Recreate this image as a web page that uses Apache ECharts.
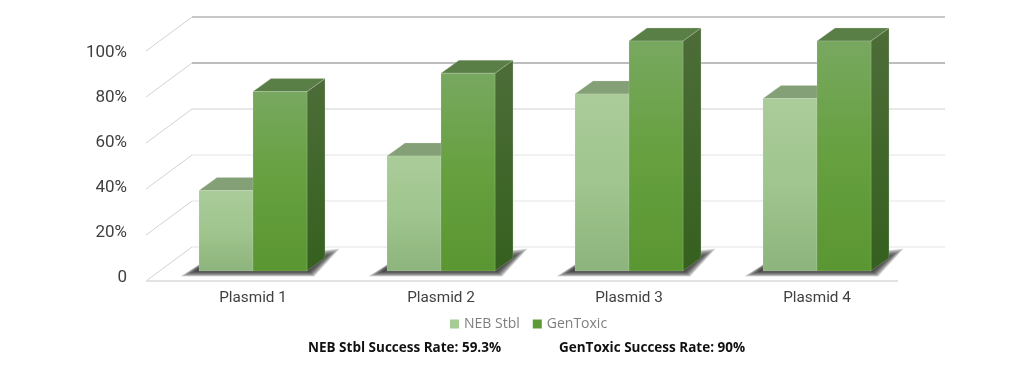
<!DOCTYPE html>
<html><head><meta charset="utf-8">
<style>html,body{margin:0;padding:0;background:#fff}#c{width:1033px;height:366px}</style>
<script src="https://cdn.jsdelivr.net/npm/echarts@6/dist/echarts.min.js"></script>
</head><body><div id="c"></div>
<script>
const categories = ['Plasmid 1','Plasmid 2','Plasmid 3','Plasmid 4'];
const nebStbl = [35, 50, 77, 75];
const genToxic = [78, 86, 100, 100];
const yTicks = [0, 20, 40, 60, 80, 100];
const notes = ['NEB Stbl Success Rate: 59.3%', 'GenToxic Success Rate: 90%'];

const wallColors = {0:'#e4e4e4',20:'#e6e6e6',40:'#e4e4e4',60:'#e0e0e0',80:'#bdbdbd',100:'#c8c8c8'};
const wallWidths = {0:1.2,20:1.2,40:1.2,60:1.5,80:2,100:2};
const WALL_DX = 46, WALL_DY = 34;     // floor depth
const BAR_DX = 13, BAR_DY = 10;       // bar front plane inside the floor
const TOP_DX = 18, TOP_DY = 13;       // bar depth
const BAR_FRAC = 54 / 188;
const SHADOW_STEPS = 16;

const vGrad = (stops) => ({type:'linear',x:0,y:0,x2:0,y2:1,colorStops:stops.map((c,i)=>({offset:i/(stops.length-1),color:c}))});

function wallItem(params, api){
  const v = api.value(0);
  const p = api.coord([0, v]);
  const band = api.size([1,0])[0];
  const l = p[0]-band/2, y = p[1];
  const kids = [{type:'line',shape:{x1:l,y1:y,x2:l+WALL_DX,y2:y-WALL_DY},style:{stroke:'#d2d2d2',lineWidth:1}},
    {type:'line',shape:{x1:l+WALL_DX,y1:y-WALL_DY,x2:l+WALL_DX+band*4+1,y2:y-WALL_DY},style:{stroke:wallColors[v],lineWidth:wallWidths[v]}}];
  if(v===0) kids.push({type:'line',shape:{x1:l,y1:y,x2:l+band*4,y2:y},style:{stroke:'#e2e2e2',lineWidth:2}});
  return {type:'group',children:kids};
}
function shadowItem(params, api){
  const p = api.coord([api.value(0), 0]);
  const w = api.size([1,0])[0]*BAR_FRAC;
  const c = p[0]+BAR_DX, y = p[1]-BAR_DY;
  const kids = [];
  // soft penumbra: nested polygons, widest and faintest first
  for(let k=SHADOW_STEPS;k>=0;k--){
    const sx = k*1.0, sy = k*0.35, tilt = k*0.6;
    kids.push({type:'polygon',shape:{points:[
      [c-w-3-sx, y+sy],
      [c+w+1+sx*0.4, y+sy],
      [c+w+17+sx, y-13-tilt],
      [c-w+10-sx*0.5, y-11+k*0.2]
    ]},style:{fill:'rgba(35,35,35,0.1)'}});
  }
  return {type:'group',children:kids};
}
function barItem(offsetSign, frontStops, topColor, sideStops){
  return function(params, api){
    const p = api.coord([api.value(0), api.value(1)]);
    const base = api.coord([api.value(0), 0]);
    const w = api.size([1,0])[0]*BAR_FRAC;
    const c = p[0]+BAR_DX;
    const x0 = offsetSign<0 ? c-w : c, x1 = x0+w;
    const t = p[1]-BAR_DY, b = base[1]-BAR_DY;
    return {type:'group',children:[
      {type:'polygon',shape:{points:[[x1,t],[x1+TOP_DX,t-TOP_DY],[x1+TOP_DX,b-TOP_DY],[x1,b]]},
        style:{fill:vGrad(sideStops),stroke:'rgba(215,215,215,0.5)',lineWidth:0.5}},
      {type:'polygon',shape:{points:[[x0,t],[x0+TOP_DX,t-TOP_DY],[x1+TOP_DX,t-TOP_DY],[x1,t]]},
        style:{fill:topColor,stroke:'rgba(215,215,215,0.5)',lineWidth:0.5}},
      {type:'rect',shape:{x:x0,y:t,width:w,height:b-t},
        style:{fill:vGrad(frontStops),stroke:'rgba(225,230,220,0.35)',lineWidth:0.5}}
    ]};
  };
}
const chart = echarts.init(document.getElementById('c'), null, {renderer:'canvas'});
const noteStyle = {fontFamily:'Open Sans',fontSize:13.5,fontWeight:'bold',color:'#111'};
chart.setOption({
  animation:false,
  backgroundColor:'#ffffff',
  textStyle:{fontFamily:'Roboto'},
  grid:[
    {left:146,top:51,width:752,height:230},
    {left:159,top:53,width:752,height:225}
  ],
  xAxis:[
    {gridIndex:0,type:'category',data:categories,axisLine:{show:false},axisTick:{show:false},axisLabel:{show:false}},
    {gridIndex:1,type:'category',data:categories,axisLine:{show:false},axisTick:{show:false},
      axisLabel:{margin:13,fontSize:15.3,color:'#404040',fontFamily:'Roboto'}}
  ],
  yAxis:[
    {gridIndex:0,type:'value',min:0,max:100,interval:20,axisLine:{show:false},axisTick:{show:false},axisLabel:{show:false},splitLine:{show:false}},
    {gridIndex:1,type:'value',min:0,max:100,interval:20,axisLine:{show:false},axisTick:{show:false},splitLine:{show:false},
      axisLabel:{margin:32,fontSize:17,color:'#404040',fontFamily:'Roboto',formatter:v=>v===0?'0':v+'%'}}
  ],
  legend:{left:450,top:317,padding:0,itemWidth:9,itemHeight:9,itemGap:13,icon:'rect',
    data:['NEB Stbl','GenToxic'],
    textStyle:{fontFamily:'Open Sans',fontSize:14,color:'#7f7f7f'}},
  title:[
    {text:notes[0],left:308,top:341,textStyle:noteStyle,padding:0},
    {text:notes[1],left:559,top:341,textStyle:noteStyle,padding:0}
  ],
  series:[
    {type:'custom',name:'wall',xAxisIndex:0,yAxisIndex:0,silent:true,z:1,encode:{y:0},data:yTicks.map(v=>[v]),renderItem:wallItem},
    {type:'custom',name:'shadow',xAxisIndex:0,yAxisIndex:0,silent:true,z:2,encode:{x:0},data:categories.map((c,i)=>[i]),renderItem:shadowItem},
    {type:'custom',name:'NEB Stbl',xAxisIndex:0,yAxisIndex:0,z:3,itemStyle:{color:'#a7cb97'},encode:{x:0,y:1},
      data:nebStbl.map((v,i)=>[i,v]),
      renderItem:barItem(-1,['#aacc99','#a0c58e','#8db47c'],'#84a077',['#6a8a58','#4f7040'])},
    {type:'custom',name:'GenToxic',xAxisIndex:0,yAxisIndex:0,z:4,itemStyle:{color:'#5d9a36'},encode:{x:0,y:1},
      data:genToxic.map((v,i)=>[i,v]),
      renderItem:barItem(1,['#78a860','#66a03f','#5a9632'],'#5a7f46',['#4d6d38','#35601f'])}
  ]
});
</script></body></html>
